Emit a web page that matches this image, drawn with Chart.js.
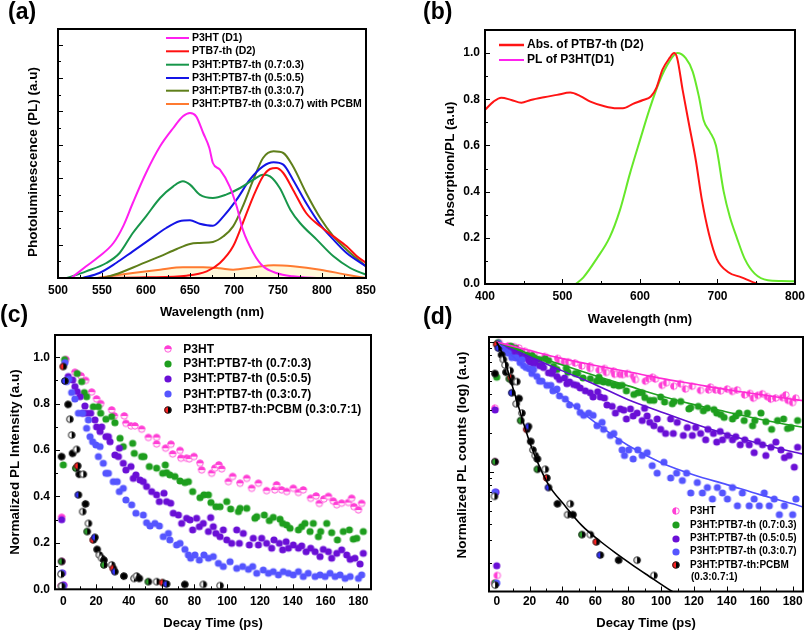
<!DOCTYPE html>
<html><head><meta charset="utf-8">
<script src="https://cdn.jsdelivr.net/npm/chart.js@4.4.1/dist/chart.umd.min.js"></script>
<style>
html,body{margin:0;padding:0;background:#fff;}
body{width:810px;height:635px;position:relative;overflow:hidden;font-family:"Liberation Sans",Arial,sans-serif;}
canvas{position:absolute;}
.lbl{position:absolute;font-weight:bold;font-size:23px;line-height:23px;color:#000;font-family:"Liberation Sans",Arial,sans-serif;}
</style></head><body>
<canvas id="ca" width="405" height="320" style="left:0;top:0;width:405px;height:320px"></canvas>
<canvas id="cb" width="405" height="330" style="left:405px;top:0;width:405px;height:330px"></canvas>
<canvas id="cc" width="405" height="317" style="left:0;top:318px;width:405px;height:317px"></canvas>
<canvas id="cd" width="405" height="317" style="left:405px;top:318px;width:405px;height:317px"></canvas>
<div class="lbl" style="left:8px;top:0px">(a)</div>
<div class="lbl" style="left:423px;top:0px">(b)</div>
<div class="lbl" style="left:0px;top:303px">(c)</div>
<div class="lbl" style="left:423px;top:305px">(d)</div>
<script>
// ---------- Panel (a): PL spectra [wavelength nm, PL (arb. units)] ----------
const plP3HT = [[515,0],[532,0.35],[547,0.65],[563,1.05],[574,1.55],[585,2.25],[600,3.15],[616,3.95],[631,4.5],[642,4.85],[650,4.95],[657,4.85],[665,4.35],[672,3.9],[676,3.45],[684,3.25],[695,2.75],[703,2.15],[710,1.45],[722,0.75],[733,0.35],[748,0.15],[767,0.05],[794,0],[850,0]];
const plPTB7 = [[540,0],[600,0.02],[646,0.07],[669,0.2],[684,0.45],[699,0.95],[710,1.65],[722,2.45],[733,3.05],[741,3.27],[748,3.3],[756,3.15],[767,2.65],[782,1.95],[798,1.55],[813,1.25],[828,0.95],[839,0.67],[850,0.45]];
const plBlend73 = [[510,0],[532,0.2],[555,0.45],[570,0.75],[585,1.35],[600,1.85],[616,2.4],[631,2.75],[642,2.9],[650,2.8],[661,2.5],[676,2.4],[691,2.5],[707,2.7],[722,2.95],[733,3.1],[741,3.05],[752,2.7],[764,2.05],[775,1.65],[794,1.15],[813,0.65],[832,0.3],[850,0.1]];
const plBlend55 = [[528,0],[547,0.15],[566,0.45],[585,0.8],[604,1.15],[623,1.5],[638,1.7],[650,1.73],[661,1.63],[676,1.57],[688,1.85],[703,2.35],[718,2.95],[733,3.35],[745,3.47],[756,3.4],[767,2.95],[782,2.25],[798,1.6],[813,1.15],[828,0.75],[850,0.35]];
const plBlend37 = [[551,0],[570,0.15],[593,0.4],[616,0.65],[635,0.87],[650,1.02],[661,1.05],[676,1.08],[688,1.25],[699,1.55],[710,2.15],[722,2.95],[733,3.6],[745,3.8],[756,3.75],[767,3.35],[782,2.55],[798,1.8],[813,1.25],[828,0.85],[850,0.35]];
const plBlendPCBM = [[544,0],[585,0.15],[616,0.25],[642,0.32],[665,0.32],[684,0.29],[699,0.25],[722,0.32],[745,0.38],[767,0.35],[798,0.25],[828,0.1],[850,0]];
const xTicksA = [500,550,600,650,700,750,800,850];

// ---------- Panel (b): absorption / PL overlap ----------
const absPTB7 = [[400,0.754],[411,0.79],[421,0.807],[434,0.797],[447,0.785],[459,0.797],[476,0.809],[493,0.819],[510,0.829],[523,0.814],[536,0.79],[553,0.771],[570,0.761],[578,0.761],[591,0.78],[604,0.797],[614,0.812],[621,0.848],[629,0.928],[638,0.978],[644,1.0],[648,0.978],[655,0.841],[663,0.696],[672,0.536],[680,0.362],[689,0.217],[699,0.109],[714,0.051],[731,0.029],[744,0.01],[752,0]];
const plP3HTnorm = [[517,0],[527,0.029],[544,0.109],[561,0.203],[574,0.319],[587,0.478],[600,0.623],[612,0.754],[625,0.877],[638,0.964],[648,1.0],[659,0.978],[668,0.92],[676,0.812],[682,0.71],[690,0.66],[698,0.6],[708,0.4],[716,0.29],[725,0.2],[735,0.11],[748,0.045],[765,0.016],[782,0.013],[800,0.012]];
const xTicksB = [400,500,600,700,800];
const yTicksB = [0,0.2,0.4,0.6,0.8,1.0];

// ---------- Panels (c)/(d): PL decay [time ps, normalized intensity] ----------
const decayP3HT = [[-1.4,0.014],[-1,0.31],[-1,0.12],[0.4,0.016],[1.6,0.99],[7.1,0.935],[10.8,0.92],[13.6,0.9],[17.3,0.85],[20.3,0.82],[22.8,0.8],[29.5,0.773],[31.1,0.747],[37.2,0.747],[38.2,0.715],[41.3,0.704],[43.7,0.704],[47.8,0.69],[51.9,0.654],[56.9,0.654],[56.9,0.626],[62.4,0.608],[65.7,0.625],[66.7,0.583],[71.2,0.598],[71.8,0.565],[75.2,0.565],[76.9,0.562],[79.7,0.572],[83.4,0.543],[84.4,0.514],[90.5,0.5],[92.5,0.522],[94.9,0.536],[96.6,0.519],[100.7,0.464],[103.3,0.486],[107.8,0.457],[111.9,0.478],[114.9,0.435],[119,0.457],[124,0.425],[129,0.428],[130.1,0.45],[133.2,0.428],[136.3,0.421],[140.3,0.435],[143.4,0.417],[146.4,0.428],[150.9,0.392],[154.2,0.402],[156.2,0.37],[159,0.389],[161.7,0.4],[164.7,0.38],[166.8,0.364],[169.8,0.371],[173.9,0.374],[175.9,0.392],[177.3,0.356],[180,0.342],[182,0.37]];
const decay73 = [[-1,0.014],[0,0.536],[0.8,0.99],[8.5,0.93],[11.2,0.895],[12.8,0.848],[14.2,0.83],[18.3,0.787],[21.4,0.787],[22.8,0.759],[26,0.733],[29.5,0.744],[31.5,0.718],[34.6,0.651],[36.6,0.615],[42.3,0.629],[43.3,0.586],[47.8,0.572],[49.2,0.572],[52.5,0.529],[56.9,0.522],[60.6,0.5],[62.2,0.536],[63,0.503],[65,0.493],[68.1,0.486],[71.2,0.467],[74.2,0.46],[76.3,0.464],[78.9,0.421],[83.4,0.395],[85.8,0.407],[88.5,0.407],[90.1,0.374],[93.1,0.356],[95.6,0.356],[99.7,0.378],[102.1,0.346],[106.8,0.335],[107.8,0.349],[111.9,0.349],[116.9,0.306],[118,0.313],[122.6,0.32],[125.7,0.296],[128.1,0.31],[132.2,0.302],[133.8,0.284],[136.3,0.277],[138.3,0.263],[143.4,0.256],[145.4,0.27],[147.4,0.284],[150.5,0.249],[152.5,0.284],[155.6,0.227],[157,0.249],[160.7,0.284],[163.7,0.244],[167.2,0.213],[170.8,0.249],[174.5,0.256],[176.9,0.216],[179,0.22],[183,0.249]];
const decay55 = [[-1,0.3],[-0.5,0.07],[0,0.019],[3,0.917],[5.7,0.902],[7.1,0.874],[8.5,0.852],[10.2,0.83],[11.8,0.759],[13.2,0.79],[14.2,0.759],[16.7,0.759],[19.3,0.73],[20.3,0.7],[22.4,0.68],[23.4,0.7],[26,0.658],[27.5,0.658],[28.5,0.636],[31.5,0.579],[33.6,0.572],[34.2,0.608],[36.6,0.543],[38.2,0.514],[41.3,0.529],[42.7,0.478],[44.3,0.493],[46.8,0.471],[48.8,0.464],[50.8,0.443],[53.9,0.421],[56.9,0.407],[58.6,0.378],[61.4,0.414],[63,0.378],[65.5,0.371],[67.1,0.328],[70.2,0.32],[72.2,0.284],[75.2,0.306],[77.3,0.299],[78.9,0.256],[81.3,0.306],[83,0.27],[85.4,0.284],[88.5,0.249],[89.9,0.309],[91.5,0.27],[93.1,0.241],[95.6,0.227],[97.6,0.256],[99.7,0.213],[102.7,0.198],[105.8,0.256],[107.4,0.198],[109.8,0.241],[113.5,0.191],[115.9,0.22],[119,0.191],[121,0.22],[124,0.198],[127.1,0.177],[128.5,0.213],[131.8,0.198],[133.8,0.17],[135.9,0.205],[137.3,0.177],[140.3,0.191],[143.4,0.177],[145.4,0.187],[148.1,0.162],[150.9,0.177],[153.6,0.162],[156.6,0.141],[158.6,0.172],[161.7,0.162],[163.7,0.134],[166.8,0.155],[169.8,0.17],[172.9,0.148],[175,0.129],[177.9,0.134],[181,0.109],[183,0.155]];
const decay37 = [[-1,0.07],[0,0.014],[1,0.977],[2,0.895],[3.3,0.905],[5.1,0.848],[7.1,0.82],[9.2,0.759],[11.8,0.759],[14.2,0.694],[15.3,0.73],[16.3,0.658],[17.9,0.636],[19.9,0.622],[21.4,0.572],[22.4,0.615],[24.4,0.543],[26,0.5],[27.5,0.5],[30.5,0.464],[32.9,0.464],[34.2,0.421],[36.6,0.435],[38.2,0.385],[41.7,0.364],[44.3,0.328],[48.8,0.32],[50.8,0.287],[52.9,0.273],[55.9,0.284],[58.6,0.273],[61,0.227],[64.1,0.241],[65,0.213],[69.1,0.191],[71.2,0.198],[74.2,0.172],[76.3,0.148],[77.7,0.134],[80.3,0.148],[83,0.126],[85.8,0.148],[88.5,0.134],[91.5,0.141],[94.6,0.112],[97.6,0.098],[101.7,0.119],[105.8,0.09],[109.4,0.098],[112.9,0.086],[115.5,0.098],[118,0.069],[122,0.083],[125.1,0.069],[128.1,0.076],[131.2,0.062],[134.2,0.076],[137.3,0.069],[140.3,0.062],[143.4,0.076],[146.4,0.055],[149.4,0.069],[153.6,0.055],[156.6,0.062],[159.7,0.055],[162.7,0.069],[165.8,0.055],[168.8,0.062],[171.9,0.047],[175,0.055],[180,0.047],[182,0.062]];
const decayPCBM = [[-1.4,0.065],[-1,0.572],[-1,0.12],[-1,0.0135],[0,0.96],[1,0.898],[3,0.797],[4,0.733],[5.1,0.665],[5.7,0.586],[7.7,0.522],[8.1,0.603],[8.8,0.532],[9.2,0.407],[9.8,0.496],[11.8,0.335],[12.2,0.496],[13.6,0.368],[14.6,0.249],[15.3,0.284],[18.3,0.213],[19.3,0.224],[20.7,0.172],[22,0.148],[23.4,0.134],[24.8,0.126],[24.8,0.105],[29.5,0.105],[30.5,0.09],[31.5,0.076],[37,0.057],[43.1,0.047],[44.7,0.057],[46.4,0.047],[51.9,0.033],[56.9,0.033],[60.6,0.029],[63,0.023],[74.2,0.021],[85.4,0.021],[95.6,0.016]];
// fits shown in (d)
const fitP3HT = [[0,1],[20,0.86],[40,0.745],[60,0.66],[80,0.59],[100,0.525],[120,0.475],[140,0.43],[160,0.395],[180,0.362],[190,0.35]];
const fit73 = [[0,1],[20,0.81],[40,0.665],[60,0.55],[80,0.46],[100,0.385],[120,0.33],[140,0.29],[160,0.255],[180,0.228],[190,0.217]];
const fit55 = [[0,1],[20,0.77],[40,0.6],[60,0.47],[80,0.36],[100,0.29],[120,0.235],[140,0.195],[160,0.165],[180,0.143],[190,0.134]];
const fit37 = [[0,1],[20,0.6],[40,0.38],[60,0.24],[80,0.16],[100,0.118],[120,0.095],[140,0.08],[160,0.067],[180,0.057],[190,0.052]];
const fitPCBM = [[0,1],[4,0.78],[8,0.53],[12,0.36],[16,0.245],[20,0.17],[26,0.11],[32,0.078],[40,0.058],[52,0.0385],[62,0.03],[72,0.024],[82,0.0195],[92,0.016],[106,0.0122],[112,0.011]];
const xTicksCD = [0,20,40,60,80,100,120,140,160,180];
const yTicksC = [0,0.2,0.4,0.6,0.8,1.0];

// ---------- helpers ----------
const FONT = '"Liberation Sans", Arial, sans-serif';
Chart.defaults.font.family = FONT;
Chart.defaults.font.weight = 'bold';
Chart.defaults.color = '#000';
const xy = a => a.map(p => ({x: p[0], y: p[1]}));
const range = (a, b, s) => { const r = []; for (let v = a; v <= b + 1e-9; v += s) r.push(+v.toFixed(4)); return r; };

function marker(r, fillA, fillB, split, stroke) {
  const s = Math.ceil(2 * r + 2);
  const c = document.createElement('canvas'); c.width = s; c.height = s;
  const g = c.getContext('2d'); const m = s / 2;
  g.beginPath(); g.arc(m, m, r, 0, 2 * Math.PI); g.fillStyle = fillB || fillA; g.fill();
  if (split) {
    g.beginPath();
    if (split === 'h') g.arc(m, m, r, Math.PI, 2 * Math.PI); else g.arc(m, m, r, Math.PI / 2, 3 * Math.PI / 2);
    g.closePath(); g.fillStyle = fillA; g.fill();
  }
  if (stroke) { g.beginPath(); g.arc(m, m, r - 0.4, 0, 2 * Math.PI); g.strokeStyle = stroke; g.lineWidth = 0.8; g.stroke(); }
  return c;
}
const MAG = '#ff3fd6', GRN = '#1e9e1e', PUR = '#6a0fd6', BLU = '#5555ff';
const R = 3.6;
const mP3HTc = marker(R, MAG, '#fff0fa', 'h', MAG);
const mP3HTd = marker(R, MAG, '#fff0fa', 'v', MAG);
const mG = marker(R, GRN), mP = marker(R, PUR), mB = marker(R, BLU);
const blackLeft = ['#ffffff', '#000000', '#2aa02a', '#ffffff', '#ff2020', '#3030ff', '#000000', '#e8e8e8'];
const blackStyles = blackLeft.map(c => marker(R, c, '#000000', 'v', '#222'));
const mPCBMleg = marker(R, '#ff2020', '#000000', 'v', '#222');

const framePlugin = {
  id: 'frame',
  afterDatasetsDraw(chart, args, o) {
    const {ctx, chartArea: a, scales} = chart;
    ctx.save();
    ctx.strokeStyle = '#000'; ctx.lineWidth = 1;
    const xs = scales.x, ys = scales.y;
    const tick = (vals, len, horiz) => (vals || []).forEach(v => {
      ctx.beginPath();
      if (horiz) { const p = Math.round(xs.getPixelForValue(v)) + 0.5; ctx.moveTo(p, a.bottom); ctx.lineTo(p, a.bottom - len); }
      else { const p = Math.round(ys.getPixelForValue(v)) + 0.5; ctx.moveTo(a.left, p); ctx.lineTo(a.left + len, p); }
      ctx.stroke();
    });
    tick(o.xMajor, 5, true); tick(o.xMinor, 3, true);
    tick(o.yMajor, 5, false); tick(o.yMinor, 3, false);
    ctx.lineWidth = 2;
    ctx.strokeRect(a.left, a.top, a.right - a.left, a.bottom - a.top);
    // y-axis title (rotated), centred where the original figure places it
    if (o.ytitle) {
      ctx.save();
      ctx.font = 'bold 13.5px ' + FONT; ctx.fillStyle = '#000';
      ctx.textAlign = 'center'; ctx.textBaseline = 'middle';
      ctx.translate(o.ytitle.x, o.ytitle.y); ctx.rotate(-Math.PI / 2);
      ctx.fillText(o.ytitle.text, 0, 0);
      ctx.restore();
    }
    ctx.restore();
  }
};
const legendPlugin = {
  id: 'mylegend',
  afterDraw(chart, args, o) {
    if (!o.items) return;
    const ctx = chart.ctx;
    ctx.save();
    ctx.font = 'bold ' + o.size + 'px ' + FONT;
    ctx.textBaseline = 'middle'; ctx.fillStyle = '#000';
    o.items.forEach((it, i) => {
      const y = o.ys[i];
      if (it.line) { ctx.strokeStyle = it.line; ctx.lineWidth = it.lw || 2; ctx.beginPath(); ctx.moveTo(o.x0, y); ctx.lineTo(o.x1, y); ctx.stroke(); }
      if (it.img) ctx.drawImage(it.img, Math.round(o.mx - it.img.width / 2), Math.round(y - it.img.height / 2));
      if (it.text) ctx.fillText(it.text, o.tx + (it.dx || 0), y);
    });
    ctx.restore();
  }
};

function baseOpts(p) {
  return {
    responsive: false, animation: false, devicePixelRatio: 1, events: [],
    layout: {padding: p.pad},
    elements: {point: {radius: 0}, line: {borderWidth: 2, cubicInterpolationMode: 'monotone'}},
    plugins: {legend: {display: false}, tooltip: {enabled: false}, frame: Object.assign({}, p.frame, {ytitle: p.ytitle}), mylegend: p.legend},
    scales: {
      x: {type: 'linear', min: p.xmin, max: p.xmax,
          grid: {display: false, drawTicks: false}, border: {display: false},
          ticks: {padding: p.xpad, font: {size: 12, weight: 'bold'}, autoSkip: false, maxRotation: 0},
          afterBuildTicks: s => { s.ticks = p.xticks.map(v => ({value: v})); },
          afterFit: s => { s.height = p.xh; },
          title: {display: true, text: p.xtitle, font: {size: 13, weight: 'bold'}, padding: {top: 0, bottom: p.xtpad}}},
      y: {type: p.ylog ? 'logarithmic' : 'linear', min: p.ymin, max: p.ymax,
          grid: {display: false, drawTicks: false}, border: {display: false},
          ticks: p.yticks ? {display: true, padding: 5, font: {size: 12, weight: 'bold'}, autoSkip: false, callback: v => (+v).toFixed(1)} : {display: false},
          afterBuildTicks: s => { if (p.yticks) s.ticks = p.yticks.map(v => ({value: v})); },
          afterFit: s => { s.width = p.yw; },
          title: {display: false}}
    }
  };
}

// ---------- (a) ----------
new Chart(document.getElementById('ca'), {
  type: 'line',
  data: {datasets: [
    {data: xy(plP3HT), borderColor: '#ff1ff0'},
    {data: xy(plPTB7), borderColor: '#ff1010'},
    {data: xy(plBlend73), borderColor: '#17964a'},
    {data: xy(plBlend55), borderColor: '#1414e6'},
    {data: xy(plBlend37), borderColor: '#5f7f1a'},
    {data: xy(plBlendPCBM), borderColor: '#ff7a30', fill: 'origin', backgroundColor: 'rgba(255,236,150,0.35)'}
  ]},
  options: baseOpts({
    pad: {left: 0, top: 29, right: 39, bottom: 0}, xmin: 500, xmax: 850, ymin: 0, ymax: 7.47,
    xticks: xTicksA, xpad: 5.5, xh: 42, xtitle: 'Wavelength (nm)', xtpad: 0,
    yticks: null, yw: 58, ytitle: {text: 'Photoluminescence (PL) (a.u)', x: 33, y: 162},
    frame: {xMajor: range(550, 800, 50), xMinor: range(525, 825, 50), yMajor: range(1, 7, 1), yMinor: range(0.5, 6.5, 1)},
    legend: {size: 10.5, x0: 166, x1: 189, tx: 192, ys: [38, 51.3, 64.7, 78, 90.7, 104], items: [
      {line: '#ff1ff0', text: 'P3HT (D1)'},
      {line: '#ff1010', text: 'PTB7-th (D2)'},
      {line: '#17964a', text: 'P3HT:PTB7-th (0.7:0.3)'},
      {line: '#1414e6', text: 'P3HT:PTB7-th (0.5:0.5)'},
      {line: '#5f7f1a', text: 'P3HT:PTB7-th (0.3:0.7)'},
      {line: '#ff7a30', text: 'P3HT:PTB7-th (0.3:0.7) with PCBM'}]}
  }),
  plugins: [framePlugin, legendPlugin]
});

// ---------- (b) ----------
new Chart(document.getElementById('cb'), {
  type: 'line',
  data: {datasets: [
    {data: xy(absPTB7), borderColor: '#ff1414'},
    {data: xy(plP3HTnorm), borderColor: '#66e82a'}
  ]},
  options: baseOpts({
    pad: {left: 0, top: 30, right: 11, bottom: 0}, xmin: 400, xmax: 800, ymin: 0, ymax: 1.1,
    xticks: xTicksB, xpad: 5, xh: 46, xtitle: 'Wavelength (nm)', xtpad: 2.5,
    yticks: yTicksB, yw: 80, ytitle: {text: 'Absorption/PL (a.u)', x: 45, y: 164},
    frame: {xMajor: [500, 600, 700], xMinor: [450, 550, 650, 750], yMajor: [0.2, 0.4, 0.6, 0.8, 1.0], yMinor: [0.1, 0.3, 0.5, 0.7, 0.9]},
    legend: {size: 12, x0: 94, x1: 119, tx: 122, ys: [45, 60], items: [
      {line: '#ff1414', lw: 2.5, text: 'Abs. of PTB7-th (D2)'},
      {line: '#ff22ee', text: 'PL of P3HT(D1)'}]}
  }),
  plugins: [framePlugin, legendPlugin]
});

// ---------- (c) ----------
const pt = (data, style) => ({data: xy(data), showLine: false, pointRadius: R, pointStyle: style, pointBorderWidth: 0});
new Chart(document.getElementById('cc'), {
  type: 'scatter',
  data: {datasets: [
    pt(decayPCBM, c => blackStyles[c.dataIndex % blackStyles.length]),
    pt(decay37, mB), pt(decay55, mP), pt(decay73, mG), pt(decayP3HT, mP3HTc)
  ]},
  options: baseOpts({
    pad: {left: 0, top: 17, right: 34, bottom: 0}, xmin: -5.06, xmax: 187.7, ymin: 0, ymax: 1.096,
    xticks: xTicksCD, xpad: 5.5, xh: 45.7, xtitle: 'Decay Time (ps)', xtpad: 3.9,
    yticks: yTicksC, yw: 55, ytitle: {text: 'Normalized PL Intensity (a.u)', x: 15, y: 144},
    frame: {xMajor: range(20, 180, 20), xMinor: range(10, 170, 20), yMajor: [0.2, 0.4, 0.6, 0.8, 1.0], yMinor: [0.1, 0.3, 0.5, 0.7, 0.9]},
    legend: {size: 12, mx: 168.3, tx: 183.3, ys: [31.3, 46, 61, 76.3, 92], items: [
      {img: mP3HTc, text: 'P3HT'},
      {img: mG, text: 'P3HT:PTB7-th (0.7:0.3)'},
      {img: mP, text: 'P3HT:PTB7-th (0.5:0.5)'},
      {img: mB, text: 'P3HT:PTB7-th (0.3:0.7)'},
      {img: mPCBMleg, text: 'P3HT:PTB7-th:PCBM (0.3:0.7:1)'}]}
  }),
  plugins: [framePlugin, legendPlugin]
});

// ---------- (d) ----------
const fit = (data, color) => ({data: xy(data), showLine: true, pointRadius: 0, borderColor: color, borderWidth: 1.6});
new Chart(document.getElementById('cd'), {
  type: 'scatter',
  data: {datasets: [
    fit(fitPCBM, '#000000'), fit(fitP3HT, '#ff2ad4'), fit(fit73, '#1fa01f'), fit(fit55, '#6010d0'), fit(fit37, '#5050ff'),
    pt(decayPCBM, c => blackStyles[c.dataIndex % blackStyles.length]),
    pt(decay37, mB), pt(decay55, mP), pt(decay73, mG), pt(decayP3HT, mP3HTd)
  ]},
  options: baseOpts({
    pad: {left: 0, top: 19, right: 7, bottom: 0}, xmin: -4.7, xmax: 186.3, ymin: 0.01205, ymax: 1.093, ylog: true,
    xticks: xTicksCD, xpad: 2.5, xh: 43.5, xtitle: 'Decay Time (ps)', xtpad: 3.9,
    yticks: null, yw: 84, ytitle: {text: 'Normalized PL counts (log) (a.u)', x: 57, y: 137},
    frame: {xMajor: range(20, 180, 20), xMinor: range(10, 170, 20), yMajor: [0.1, 1], yMinor: [0.02,0.03,0.04,0.05,0.06,0.07,0.08,0.09,0.2,0.3,0.4,0.5,0.6,0.7,0.8,0.9]},
    legend: {size: 10, mx: 271, tx: 285, ys: [193, 207, 220.5, 233.5, 247, 259.5], items: [
      {img: mP3HTd, text: 'P3HT'},
      {img: mG, text: 'P3HT:PTB7-th (0.7:0.3)'},
      {img: mP, text: 'P3HT:PTB7-th (0.5:0.5)'},
      {img: mB, text: 'P3HT:PTB7-th (0.3:0.7)'},
      {img: mPCBMleg, text: 'P3HT:PTB7-th:PCBM'},
      {text: '(0.3:0.7:1)', dx: 1}]}
  }),
  plugins: [framePlugin, legendPlugin]
});
</script>
</body></html>
